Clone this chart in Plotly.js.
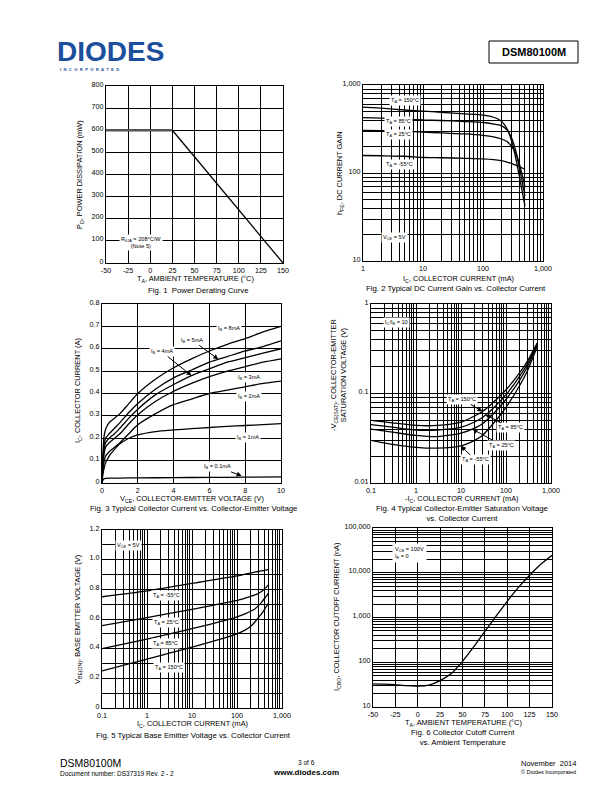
<!DOCTYPE html>
<html>
<head>
<meta charset="utf-8">
<script src="https://cdn.plot.ly/plotly-3.0.1.min.js"></script>
<style>
html, body { margin: 0; padding: 0; background: #fff; }
#page { width: 612px; height: 792px; }
</style>
</head>
<body>
<div id="page"></div>
<script>
// Fig. 1 power derating
var derateTemp = [-50, 25, 150];
var deratePower = [600, 600, 0];

// Fig. 2 hFE vs IC
var hfeIc = [1, 2, 5, 10, 20, 50, 100, 150, 200, 250, 300, 350, 400, 450, 500];
var hfe150 = [560, 545, 520, 505, 490, 470, 455, 430, 390, 320, 230, 150, 95, 62, 42];
var hfe85 = [425, 420, 410, 400, 395, 385, 375, 360, 345, 310, 250, 180, 120, 80, 55];
var hfe25 = [305, 302, 298, 292, 285, 278, 268, 258, 245, 228, 200, 170, 130, 95, 70];
var hfeM55 = [158, 157, 155, 150, 149, 147, 145, 142, 138, 133, 128, 123, 118, 114, 110];

// Fig. 3 IC vs VCE
var vce = [0, 0.05, 0.1, 0.2, 0.4, 0.7, 1, 1.5, 2, 3, 4, 5, 6, 7, 8, 9, 10];
var ib8 = [0, 0.12, 0.2, 0.24, 0.27, 0.29, 0.31, 0.355, 0.40, 0.465, 0.515, 0.555, 0.59, 0.62, 0.645, 0.675, 0.70];
var ib5 = [0, 0.1, 0.16, 0.2, 0.22, 0.245, 0.27, 0.315, 0.355, 0.42, 0.47, 0.505, 0.54, 0.565, 0.59, 0.61, 0.635];
var ib4 = [0, 0.09, 0.14, 0.18, 0.2, 0.22, 0.245, 0.29, 0.33, 0.395, 0.44, 0.48, 0.51, 0.54, 0.56, 0.58, 0.60];
var ib3 = [0, 0.08, 0.12, 0.16, 0.18, 0.2, 0.22, 0.265, 0.305, 0.365, 0.41, 0.445, 0.475, 0.5, 0.52, 0.54, 0.555];
var ib2 = [0, 0.06, 0.09, 0.12, 0.14, 0.16, 0.18, 0.22, 0.26, 0.31, 0.35, 0.375, 0.40, 0.415, 0.43, 0.445, 0.455];
var ib1 = [0, 0.04, 0.06, 0.09, 0.12, 0.15, 0.175, 0.2, 0.215, 0.23, 0.237, 0.243, 0.248, 0.253, 0.257, 0.261, 0.265];
var vceLow = [0, 0.05, 0.1, 0.2, 0.5, 1, 2, 4, 6, 8, 10];
var ib01 = [0, 0.012, 0.018, 0.021, 0.022, 0.022, 0.023, 0.024, 0.025, 0.026, 0.027];

// Fig. 4 VCE(sat) vs IC
var satIc = [0.1, 0.3, 1, 3, 10, 20, 30, 50, 100, 200, 300, 500];
var sat150 = [0.050, 0.047, 0.044, 0.044, 0.048, 0.056, 0.063, 0.078, 0.11, 0.17, 0.23, 0.37];
var sat85 = [0.045, 0.042, 0.039, 0.039, 0.042, 0.048, 0.054, 0.067, 0.097, 0.155, 0.215, 0.36];
var sat25 = [0.040, 0.037, 0.034, 0.033, 0.036, 0.041, 0.046, 0.058, 0.086, 0.14, 0.2, 0.35];
var satM55 = [0.030, 0.027, 0.025, 0.0245, 0.026, 0.030, 0.034, 0.045, 0.07, 0.122, 0.18, 0.34];

// Fig. 5 VBE(on) vs IC
var vbeIc = [0.1, 1, 10, 100, 150, 200, 250, 300, 350, 400, 450, 500];
var vbeM55 = [0.75, 0.79, 0.84, 0.89, 0.902, 0.91, 0.916, 0.921, 0.925, 0.928, 0.931, 0.935];
var vbe25 = [0.555, 0.61, 0.665, 0.725, 0.74, 0.752, 0.762, 0.772, 0.785, 0.80, 0.815, 0.83];
var vbe85 = [0.40, 0.465, 0.535, 0.615, 0.635, 0.652, 0.668, 0.69, 0.712, 0.735, 0.755, 0.775];
var vbe150 = [0.25, 0.33, 0.41, 0.50, 0.525, 0.55, 0.58, 0.61, 0.635, 0.66, 0.685, 0.705];

// Fig. 6 ICBO vs TA
var cboTemp = [-50, -37.5, -25, -12.5, 0, 12.5, 25, 37.5, 50, 62.5, 75, 87.5, 100, 112.5, 125, 137.5, 150];
var cboCurrent = [33, 32.5, 31.5, 30, 29.5, 31, 39, 56, 105, 220, 490, 1070, 2300, 4700, 8800, 15500, 24500];

var F = 'Liberation Sans, Arial, Helvetica, sans-serif';
var W = 612, H = 792;
var TS = 7.4;  // axis titles
var CS = 7.8;  // figure captions
function fx(p) { return p / W; }
function fy(p) { return 1 - p / H; }

function fmt(v) { return v >= 1 ? v.toLocaleString('en-US') : String(v); }
function logTicks(lo, hi) {
  var vals = [], text = [];
  for (var k = lo; k < hi; k++) {
    for (var m = 1; m < 10; m++) {
      var v = Number((m * Math.pow(10, k)).toPrecision(3));
      vals.push(v);
      text.push(m === 1 ? fmt(v) : '');
    }
  }
  var top = Number(Math.pow(10, hi).toPrecision(3));
  vals.push(top); text.push(fmt(top));
  return { tickvals: vals, ticktext: text };
}
function linTicks(lo, hi, step, every, dec) {
  var vals = [], text = [];
  var n = Math.round((hi - lo) / step);
  for (var i = 0; i <= n; i++) {
    var v = Number((lo + i * step).toFixed(4));
    vals.push(v);
    text.push(i % every === 0 ? v.toFixed(dec) : '');
  }
  return { tickvals: vals, ticktext: text };
}

function xax(x0, x1, anchor, extra) {
  return Object.assign({
    domain: [fx(x0), fx(x1)], anchor: anchor,
    showgrid: true, gridcolor: '#000', gridwidth: 1,
    showline: true, linecolor: '#000', linewidth: 1, mirror: true,
    zeroline: false, ticks: '', tickmode: 'array',
    tickfont: { family: F, size: 7.2, color: '#000' }, fixedrange: true
  }, extra);
}
function yax(y0, y1, anchor, extra) {
  return Object.assign({
    domain: [fy(y1), fy(y0)], anchor: anchor,
    showgrid: true, gridcolor: '#000', gridwidth: 1,
    showline: true, linecolor: '#000', linewidth: 1, mirror: true,
    zeroline: false, ticks: '', tickmode: 'array', ticklabelshift: -2,
    tickfont: { family: F, size: 7.2, color: '#000' }, fixedrange: true
  }, extra);
}

function line(x, y, xa, ya, color, width) {
  return {
    x: x, y: y, xaxis: xa, yaxis: ya, type: 'scatter', mode: 'lines',
    line: { color: color || '#000', width: width || 1.3, shape: 'spline', smoothing: 0.6 },
    hoverinfo: 'skip', showlegend: false
  };
}

var data = [
  line(derateTemp.slice(0, 2), deratePower.slice(0, 2), 'x', 'y', '#555', 2.6),
  line(derateTemp.slice(1), deratePower.slice(1), 'x', 'y', '#000', 1.3),

  line(hfeIc, hfe150, 'x2', 'y2'),
  line(hfeIc, hfe85, 'x2', 'y2'),
  line(hfeIc, hfe25, 'x2', 'y2'),
  line(hfeIc, hfeM55, 'x2', 'y2'),

  line(vce, ib8, 'x3', 'y3'),
  line(vce, ib5, 'x3', 'y3'),
  line(vce, ib4, 'x3', 'y3'),
  line(vce, ib3, 'x3', 'y3'),
  line(vce, ib2, 'x3', 'y3'),
  line(vce, ib1, 'x3', 'y3'),
  line(vceLow, ib01, 'x3', 'y3'),

  line(satIc, sat150, 'x4', 'y4'),
  line(satIc, sat85, 'x4', 'y4'),
  line(satIc, sat25, 'x4', 'y4'),
  line(satIc, satM55, 'x4', 'y4'),

  line(vbeIc, vbeM55, 'x5', 'y5'),
  line(vbeIc, vbe25, 'x5', 'y5'),
  line(vbeIc, vbe85, 'x5', 'y5'),
  line(vbeIc, vbe150, 'x5', 'y5'),

  line(cboTemp, cboCurrent, 'x6', 'y6')
];

var t1x = linTicks(-50, 150, 25, 1, 0), t1y = linTicks(0, 800, 100, 1, 0);
var t3x = linTicks(0, 10, 2, 1, 0), t3y = linTicks(0, 0.8, 0.1, 1, 1);
t3y.ticktext[0] = '0';
var t5y = linTicks(0, 1.2, 0.1, 2, 1);
t5y.ticktext[0] = '0';
var t6x = linTicks(-50, 150, 25, 1, 0);

// text helpers
function txt(s, x, y, size, extra) {
  return Object.assign({
    text: s, xref: 'paper', yref: 'paper', x: fx(x), y: fy(y),
    xanchor: 'center', yanchor: 'middle', showarrow: false,
    font: { family: F, size: size, color: '#000' }
  }, extra);
}
function tag(s, x, y) {
  return txt(s, x, y, 5.6, { bgcolor: '#fff', borderpad: 1 });
}
function arrowTag(s, xa, ya, x, y, ax, ay) {
  return {
    text: s, xref: xa, yref: ya, x: x, y: y, ax: ax, ay: ay,
    showarrow: true, arrowhead: 2, arrowsize: 1, arrowwidth: 1, arrowcolor: '#000',
    bgcolor: '#fff', borderpad: 1, font: { family: F, size: 5.6, color: '#000' }
  };
}
var lg = Math.log10;

var annotations = [
  // header / footer
  txt('<b>DIODES</b>', 55, 52, 28, { xanchor: 'left', font: { family: F, size: 28, color: '#1d4f9c' } }),
  txt('<b>I  N  C  O  R  P  O  R  A  T  E  D</b>', 58, 69, 4.2, { xanchor: 'left', font: { family: F, size: 4.2, color: '#1d4f9c' } }),
  txt('<b>DSM80100M</b>', 533.5, 52, 11),
  txt('DSM80100M', 58, 763, 10.5, { xanchor: 'left' }),
  txt('Document number: DS37319 Rev. 2 - 2', 58, 773, 6.5, { xanchor: 'left' }),
  txt('3 of 6', 306, 762, 6.5),
  txt('<b>www.diodes.com</b>', 306, 772, 8),
  txt('November  2014', 578, 763, 7.5, { xanchor: 'right' }),
  txt('© Diodes Incorporated', 578, 772, 5.5, { xanchor: 'right' }),

  // Fig 1
  txt('T<sub>A</sub>, AMBIENT TEMPERATURE (°C)', 196, 279, TS),
  txt('Fig. 1  Power Derating Curve', 198, 290, CS),
  txt('P<sub>D</sub>, POWER DISSIPATION (mW)', 80, 175, TS, { textangle: -90 }),
  txt('R<sub>θJA</sub> = 208°C/W<br>(Note 5)', 141, 242, 5.6, { bgcolor: '#fff', borderpad: 1 }),

  // Fig 2
  txt('I<sub>C</sub>, COLLECTOR CURRENT (mA)', 458, 279, TS),
  txt('Fig. 2 Typical DC Current Gain vs. Collector Current', 456, 289, CS),
  txt('h<sub>FE</sub>, DC CURRENT GAIN', 340, 173, TS, { textangle: -90 }),
  tag('T<sub>A</sub> = 150°C', 405, 101),
  tag('T<sub>A</sub> = 85°C', 398, 121),
  tag('T<sub>A</sub> = 25°C', 398, 135),
  tag('T<sub>A</sub> = -55°C', 399, 164),
  tag('V<sub>CE</sub> = 5V', 394, 237),

  // Fig 3
  txt('V<sub>CE</sub>, COLLECTOR-EMITTER VOLTAGE (V)', 192, 499, TS),
  txt('Fig. 3 Typical Collector Current vs. Collector-Emitter Voltage', 193, 509, CS),
  txt('I<sub>C</sub>, COLLECTOR CURRENT (A)', 78, 391, TS, { textangle: -90 }),
  tag('I<sub>B</sub> = 8mA', 229, 328),
  tag('I<sub>B</sub> = 3mA', 249, 377),
  tag('I<sub>B</sub> = 2mA', 249, 396),
  tag('I<sub>B</sub> = 1mA', 248, 437),
  arrowTag('I<sub>B</sub> = 5mA', 'x3', 'y3', 6.5, 0.553, -26, -19),
  arrowTag('I<sub>B</sub> = 4mA', 'x3', 'y3', 5, 0.48, -30, -24),
  arrowTag('I<sub>B</sub> = 0.1mA', 'x3', 'y3', 7.8, 0.032, -24, -9),

  // Fig 4
  txt('-I<sub>C</sub>, COLLECTOR CURRENT (mA)', 462, 499, TS),
  txt('Fig. 4 Typical Collector-Emitter Saturation Voltage<br>vs. Collector Current', 462, 513, CS),
  txt('-V<sub>CE(SAT)</sub>, COLLECTOR-EMITTER<br>SATURATION VOLTAGE (V)', 338, 375, TS, { textangle: -90 }),
  tag('I<sub>C</sub>/I<sub>B</sub> = 10', 396, 322),
  arrowTag('T<sub>A</sub> = 150°C', 'x4', 'y4', lg(30), lg(0.063), -20, -12),
  arrowTag('T<sub>A</sub> = 85°C', 'x4', 'y4', lg(35), lg(0.058), 25, 13),
  arrowTag('T<sub>A</sub> = 25°C', 'x4', 'y4', lg(18), lg(0.040), 29, 16),
  arrowTag('T<sub>A</sub> = -55°C', 'x4', 'y4', lg(10), lg(0.026), 14, 14),

  // Fig 5
  txt('I<sub>C</sub>, COLLECTOR CURRENT (mA)', 192, 724, TS),
  txt('Fig. 5 Typical Base Emitter Voltage vs. Collector Current', 193, 735, CS),
  txt('V<sub>BE(ON)</sub>, BASE EMITTER VOLTAGE (V)', 78, 620, TS, { textangle: -90 }),
  tag('V<sub>CE</sub> = 5V', 128, 545),
  tag('T<sub>A</sub> = -55°C', 166, 595),
  tag('T<sub>A</sub> = 25°C', 166, 622),
  tag('T<sub>A</sub> = 85°C', 165, 643),
  tag('T<sub>A</sub> = 150°C', 169, 667),

  // Fig 6
  txt('T<sub>A</sub>, AMBIENT TEMPERATURE (°C)', 463, 723, TS),
  txt('Fig. 6 Collector Cutoff Current<br>vs. Ambient Temperature', 463, 737, CS),
  txt('I<sub>CBO</sub>, COLLECTOR CUTOFF CURRENT (nA)', 337, 617, TS, { textangle: -90 }),
  txt('V<sub>CB</sub> = 100V<br>I<sub>E</sub> = 0', 410, 553, 5.6, { bgcolor: '#fff', borderpad: 2, align: 'left' })
];

var layout = {
  width: W, height: H, autosize: false,
  margin: { l: 0, r: 0, t: 0, b: 0 },
  paper_bgcolor: '#fff', plot_bgcolor: '#fff',
  showlegend: false,
  font: { family: F, color: '#000' },

  xaxis: xax(106, 283, 'y', { range: [-50, 150], tickvals: t1x.tickvals, ticktext: t1x.ticktext }),
  yaxis: yax(86, 263, 'x', { range: [0, 800], tickvals: t1y.tickvals, ticktext: t1y.ticktext }),

  xaxis2: xax(363, 543, 'y2', Object.assign({ type: 'log', range: [0, 3] }, logTicks(0, 3))),
  yaxis2: yax(85, 261, 'x2', Object.assign({ type: 'log', range: [1, 3] }, logTicks(1, 3))),

  xaxis3: xax(102, 281, 'y3', { range: [0, 10], tickvals: t3x.tickvals, ticktext: t3x.ticktext }),
  yaxis3: yax(304, 483, 'x3', { range: [0, 0.8], tickvals: t3y.tickvals, ticktext: t3y.ticktext }),

  xaxis4: xax(371, 551, 'y4', Object.assign({ type: 'log', range: [-1, 3] }, logTicks(-1, 3))),
  yaxis4: yax(304, 483, 'x4', Object.assign({ type: 'log', range: [-2, 0] }, logTicks(-2, 0))),

  xaxis5: xax(102, 282, 'y5', Object.assign({ type: 'log', range: [-1, 3] }, logTicks(-1, 3))),
  yaxis5: yax(530, 708, 'x5', { range: [0, 1.2], tickvals: t5y.tickvals, ticktext: t5y.ticktext }),

  xaxis6: xax(373, 552, 'y6', { range: [-50, 150], tickvals: t6x.tickvals, ticktext: t6x.ticktext }),
  yaxis6: yax(528, 707, 'x6', Object.assign({ type: 'log', range: [1, 5] }, logTicks(1, 5))),

  shapes: [
    { type: 'rect', xref: 'paper', yref: 'paper', x0: fx(489), x1: fx(578), y0: fy(63), y1: fy(41),
      line: { color: '#000', width: 1 } }
  ],
  annotations: annotations
};

Plotly.newPlot('page', data, layout, { staticPlot: true, displayModeBar: false });
</script>
</body>
</html>
